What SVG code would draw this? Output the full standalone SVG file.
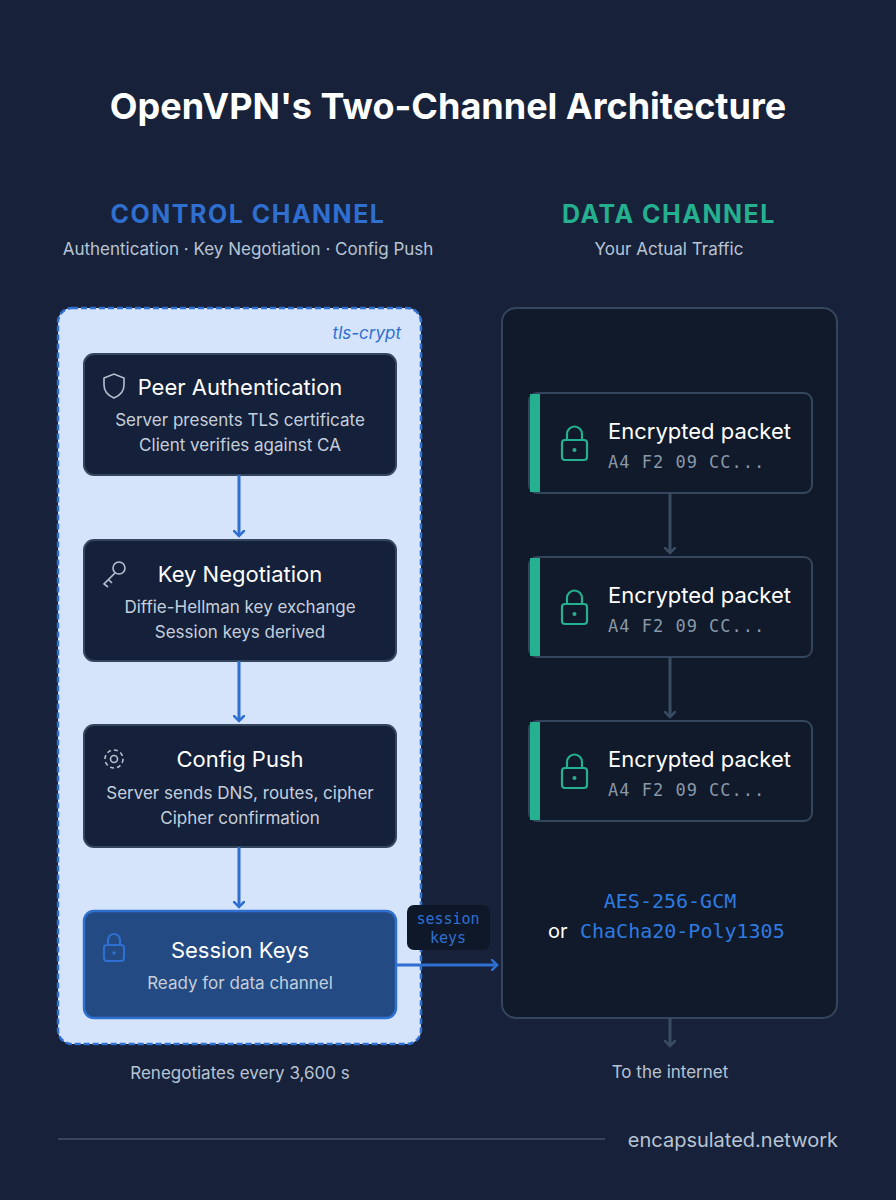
<svg xmlns="http://www.w3.org/2000/svg" width="896" height="1200" viewBox="0 0 896 1200">
<defs>
<style>
text{font-family:Inter,"Noto Sans","Liberation Sans",sans-serif}
.mono{font-family:"DejaVu Sans Mono","Liberation Mono",monospace}
.node{fill:#15213a;stroke:#34465e;stroke-width:2}
.nt{fill:#fff;font-size:22px;text-anchor:middle}
.ns{fill:#c5cfdc;font-size:17px;text-anchor:middle}
.pk{fill:#101a2a;stroke:#34465e;stroke-width:2}
.pt{fill:#fff;font-size:22px}
.ph{fill:#8a97a8;font-size:17px;letter-spacing:1px}
.ic{fill:none;stroke:#b5c0cf;stroke-width:1.6}
.lk{fill:none;stroke:#25b08f;stroke-width:2.2}
.ca{stroke:#2f6fd0;stroke-width:3;fill:none}
.da{stroke:#3a4c62;stroke-width:3;fill:none}
</style>
<marker id="ab" markerWidth="12" markerHeight="12" refX="6" refY="6" orient="auto" markerUnits="userSpaceOnUse" viewBox="0 0 12 12"><path d="M0,0 L6,6 L0,12" fill="none" stroke="#2f6fd0" stroke-width="2.6"/></marker>
<marker id="ag" markerWidth="12" markerHeight="12" refX="6" refY="6" orient="auto" markerUnits="userSpaceOnUse" viewBox="0 0 12 12"><path d="M0,0 L6,6 L0,12" fill="none" stroke="#3a4c62" stroke-width="2.6"/></marker>
</defs>
<rect width="896" height="1200" fill="#17223a"/>
<text x="448" y="119" font-size="36" font-weight="bold" fill="#fff" text-anchor="middle">OpenVPN's Two-Channel Architecture</text>
<text x="248" y="223" font-size="25" font-weight="bold" fill="#2f6fd0" text-anchor="middle" letter-spacing="1.5">CONTROL CHANNEL</text>
<text x="248" y="255" font-size="17" fill="#b8c4d4" text-anchor="middle">Authentication · Key Negotiation · Config Push</text>
<text x="669" y="223" font-size="25" font-weight="bold" fill="#25b08f" text-anchor="middle" letter-spacing="1.5">DATA CHANNEL</text>
<text x="669" y="255" font-size="17" fill="#b8c4d4" text-anchor="middle">Your Actual Traffic</text>

<g id="control-container">
<rect x="58" y="308" width="363" height="736" rx="14" fill="#d6e4fb" stroke="#2f6fd0" stroke-width="2.5" stroke-dasharray="6,3"/>
<text x="401" y="339" font-size="17" font-style="italic" fill="#2f6fd0" text-anchor="end">tls-crypt</text>
</g>
<g id="data-container">
<rect x="502" y="308" width="335" height="710" rx="14" fill="#111a2a" stroke="#34465e" stroke-width="2"/>
</g>

<g id="peer-auth">
<rect class="node" x="84" y="354" width="312" height="121" rx="10"/>
<path class="ic" d="M104,378 L114,374 L124,378 L124,385 Q124,394 114,398 Q104,394 104,385 Z"/>
<text class="nt" x="240" y="395">Peer Authentication</text>
<text class="ns" x="240" y="426">Server presents TLS certificate</text>
<text class="ns" x="240" y="451">Client verifies against CA</text>
</g>
<g id="key-negotiation">
<rect class="node" x="84" y="540" width="312" height="121" rx="10"/>
<circle class="ic" cx="119" cy="568" r="6"/>
<path class="ic" d="M115,573 L104,584 L108,587 M109,580 L112,583"/>
<text class="nt" x="240" y="582">Key Negotiation</text>
<text class="ns" x="240" y="613">Diffie-Hellman key exchange</text>
<text class="ns" x="240" y="638">Session keys derived</text>
</g>
<g id="config-push">
<rect class="node" x="84" y="725" width="312" height="122" rx="10"/>
<circle class="ic" cx="114" cy="759" r="3.5"/>
<circle class="ic" cx="114" cy="759" r="9" stroke-dasharray="4,3"/>
<text class="nt" x="240" y="767">Config Push</text>
<text class="ns" x="240" y="799">Server sends DNS, routes, cipher</text>
<text class="ns" x="240" y="824">Cipher confirmation</text>
</g>
<g id="session-keys">
<rect x="84" y="911" width="312" height="107" rx="10" fill="#234a82" stroke="#2f6fd0" stroke-width="2.5"/>
<rect x="104" y="945" width="20" height="16" rx="3" fill="none" stroke="#2f6fd0" stroke-width="2.2"/>
<path d="M108,945 V940 a6,6 0 0 1 12,0 V945" fill="none" stroke="#2f6fd0" stroke-width="2.2"/>
<circle cx="114" cy="953" r="1.8" fill="#2f6fd0"/>
<text class="nt" x="240" y="958">Session Keys</text>
<text class="ns" x="240" y="989" fill="#d6e0ee">Ready for data channel</text>
</g>

<g id="packet-1">
<rect class="pk" x="529" y="393" width="283" height="100" rx="8"/>
<rect x="530" y="394" width="10" height="98" fill="#25b08f"/>
<rect class="lk" x="562" y="440" width="25" height="20" rx="3"/><path class="lk" d="M567,440 V434 a7.5,7.5 0 0 1 15,0 V440"/><circle cx="574.5" cy="450" r="2" fill="#25b08f"/>
<text class="pt" x="608" y="439">Encrypted packet</text>
<text class="ph mono" x="608" y="468">A4 F2 09 CC...</text>
</g>
<g id="packet-2">
<rect class="pk" x="529" y="557" width="283" height="100" rx="8"/>
<rect x="530" y="558" width="10" height="98" fill="#25b08f"/>
<rect class="lk" x="562" y="604" width="25" height="20" rx="3"/><path class="lk" d="M567,604 V598 a7.5,7.5 0 0 1 15,0 V604"/><circle cx="574.5" cy="614" r="2" fill="#25b08f"/>
<text class="pt" x="608" y="603">Encrypted packet</text>
<text class="ph mono" x="608" y="632">A4 F2 09 CC...</text>
</g>
<g id="packet-3">
<rect class="pk" x="529" y="721" width="283" height="100" rx="8"/>
<rect x="530" y="722" width="10" height="98" fill="#25b08f"/>
<rect class="lk" x="562" y="768" width="25" height="20" rx="3"/><path class="lk" d="M567,768 V762 a7.5,7.5 0 0 1 15,0 V768"/><circle cx="574.5" cy="778" r="2" fill="#25b08f"/>
<text class="pt" x="608" y="767">Encrypted packet</text>
<text class="ph mono" x="608" y="796">A4 F2 09 CC...</text>
</g>
<g id="cipher">
<text class="mono" x="670" y="908" font-size="20" fill="#2f7ae0" text-anchor="middle">AES-256-GCM</text>
<text x="548" y="938" font-size="20" fill="#fff">or</text>
<text class="mono" x="580" y="938" font-size="20" fill="#2f7ae0">ChaCha20-Poly1305</text>
</g>

<g id="connectors">
<path class="ca" d="M239,475 V536" marker-end="url(#ab)"/>
<path class="ca" d="M239,661 V721" marker-end="url(#ab)"/>
<path class="ca" d="M239,847 V907" marker-end="url(#ab)"/>
<path class="ca" d="M396,965 H497" marker-end="url(#ab)"/>
<path class="da" d="M670,493 V553" marker-end="url(#ag)"/>
<path class="da" d="M670,657 V717" marker-end="url(#ag)"/>
<path class="da" d="M670,1018 V1046" marker-end="url(#ag)"/>
<rect x="407" y="905" width="83" height="45" rx="7" fill="#0f1828"/>
<text class="mono" x="448" y="924" font-size="15" fill="#2f6fd0" text-anchor="middle">session</text>
<text class="mono" x="448" y="943" font-size="15" fill="#2f6fd0" text-anchor="middle">keys</text>
</g>

<text x="240" y="1079" font-size="17" fill="#b8c4d4" text-anchor="middle">Renegotiates every 3,600 s</text>
<text x="670" y="1078" font-size="17" fill="#b8c4d4" text-anchor="middle">To the internet</text>
<line x1="58" y1="1139" x2="605" y2="1139" stroke="#5a6a80" stroke-width="1"/>
<text x="838" y="1147" font-size="20" fill="#b8c4d4" text-anchor="end">encapsulated.network</text>
</svg>
